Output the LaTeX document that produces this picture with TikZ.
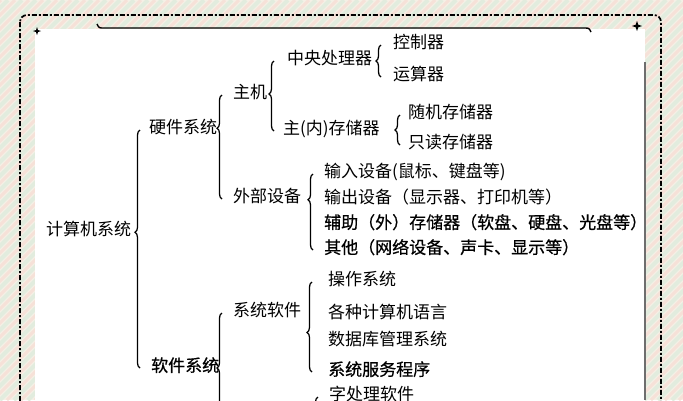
\documentclass[tikz,border=0pt]{standalone}
\usepackage{fontspec}
\usepackage{tikz}
\usetikzlibrary{decorations.pathreplacing,calc}
\newfontfamily\cjk{Noto Sans CJK SC}
\newfontfamily\cjkb[FakeBold=0.6]{Noto Sans CJK SC}
\definecolor{bgcream}{RGB}{245,240,230}
\definecolor{bggreen}{RGB}{226,236,222}
\definecolor{bgpink}{RGB}{246,225,216}
\definecolor{shadowgray}{RGB}{110,110,110}

\begin{document}
\begin{tikzpicture}[x=1pt,y=-1pt,
    txt/.style={anchor=west,inner sep=1pt,font=\cjk\fontsize{17pt}{20pt}\selectfont,text height=0.85em,text depth=0.12em},
    txtb/.style={txt,font=\cjkb\fontsize{17pt}{20pt}\selectfont},
    brc/.style={decorate,line width=1.25pt}]
  \clip (0,0) rectangle (683,400);
  % background and frame
  \fill[bgcream] (0,0) rectangle (683,400);
  \foreach \s in {-420,-406,...,690}{
    \draw[bggreen,line width=4pt] (\s,400) -- ++(400,-400);
    \draw[bgpink,line width=3pt] (\s+7,400) -- ++(400,-400);
  }
  \draw[line width=1.7pt,dash pattern=on 5pt off 2pt on 2pt off 2pt,rounded corners=7pt] (20,15) rectangle (661,430);
  \fill[white] (35,29) rectangle (645,430);
  \draw[shadowgray,line width=1.3pt] (645,62) -- (645,400);
  \draw[line width=1.4pt] (97,24) .. controls (99,28) .. (104,28) -- (584,28) .. controls (589,28) .. (591,32);
  \fill[shift={(37,31)}] (0,-4) -- (1,-1) -- (4,0) -- (1,1) -- (0,4) -- (-1,1) -- (-4,0) -- (-1,-1) -- cycle;
  \fill[shift={(637,26)}] (0,-5) -- (1.3,-1.3) -- (5,0) -- (1.3,1.3) -- (0,5) -- (-1.3,1.3) -- (-5,0) -- (-1.3,-1.3) -- cycle;

  \node[txt]  (n_jsj)  at (45,232)  {计算机系统};
  \node[txt]  (n_yj)   at (148,130) {硬件系统};
  \node[txtb] (n_rj)   at (150,368) {软件系统};
  \node[txt]  (n_zj)   at (232,95)  {主机};
  \node[txt]  (n_wb)   at (232,199) {外部设备};
  \node[txt]  (n_xr)   at (232,313) {系统软件};
  \node[txt]  (n_zycl) at (286,61)  {中央处理器};
  \node[txt]  (n_ncun) at (282,131) {主(内)存储器};
  \node[txt]  (n_kz)   at (392,45)  {控制器};
  \node[txt]  (n_ys)   at (392,77)  {运算器};
  \node[txt]  (n_sj)   at (407,115) {随机存储器};
  \node[txt]  (n_zd)   at (407,145) {只读存储器};
  \node[txt]  (n_sr)   at (323,174) {输入设备(鼠标、键盘等)};
  \node[txt]  (n_sc)   at (323,200) {输出设备（显示器、打印机等）};
  \node[txtb] (n_fz)   at (323,225) {辅助（外）存储器（软盘、硬盘、光盘等）};
  \node[txtb] (n_qt)   at (323,250) {其他（网络设备、声卡、显示等）};
  \node[txt]  (n_cz)   at (327,282) {操作系统};
  \node[txt]  (n_yy)   at (327,315) {各种计算机语言};
  \node[txt]  (n_sjk)  at (327,342) {数据库管理系统};
  \node[txtb] (n_fw)   at (327,372) {系统服务程序};
  \node[txt]  (n_zcl)  at (328,397) {字处理软件};
  \coordinate (c_rjend) at ($(n_xr.west)+(-10,110)$);
  \coordinate (c_yyend) at ($(n_zcl.west)+(-10,80)$);

  % braces
  \draw[brc,decoration={brace,amplitude=5pt,aspect=0.57}] ($(n_yj.west |- n_rj.west)+(-8,0)$) -- ($(n_yj.west)+(-8,0)$);
  \draw[brc,decoration={brace,amplitude=5pt,aspect=0.68}] ($(n_wb.west)+(-10,0)$) -- ($(n_zj.west)+(-10,0)$);
  \draw[brc,decoration={brace,amplitude=5pt,aspect=0.5}] (c_rjend) -- ($(n_xr.west)+(-10,0)$);
  \draw[brc,decoration={brace,amplitude=5pt,aspect=0.53}] ($(n_ncun.west)+(-8,0)$) -- ($(n_ncun.west |- n_zycl.west)+(-8,0)$);
  \draw[brc,decoration={brace,amplitude=5pt,aspect=0.5}] ($(n_ys.west)+(-11,0)$) -- ($(n_kz.west)+(-11,0)$);
  \draw[brc,decoration={brace,amplitude=5pt,aspect=0.5}] ($(n_zd.west)+(-7,0)$) -- ($(n_sj.west)+(-7,0)$);
  \draw[brc,decoration={brace,amplitude=5pt,aspect=0.66}] ($(n_qt.west)+(-10,0)$) -- ($(n_sr.west)+(-10,0)$);
  \draw[brc,decoration={brace,amplitude=5pt,aspect=0.44}] ($(n_fw.west)+(-15,0)$) -- ($(n_cz.west)+(-15,0)$);
  \draw[brc,decoration={brace,amplitude=5pt,aspect=0.5}] (c_yyend) -- ($(n_zcl.west)+(-10,0)$);
\end{tikzpicture}
\end{document}
